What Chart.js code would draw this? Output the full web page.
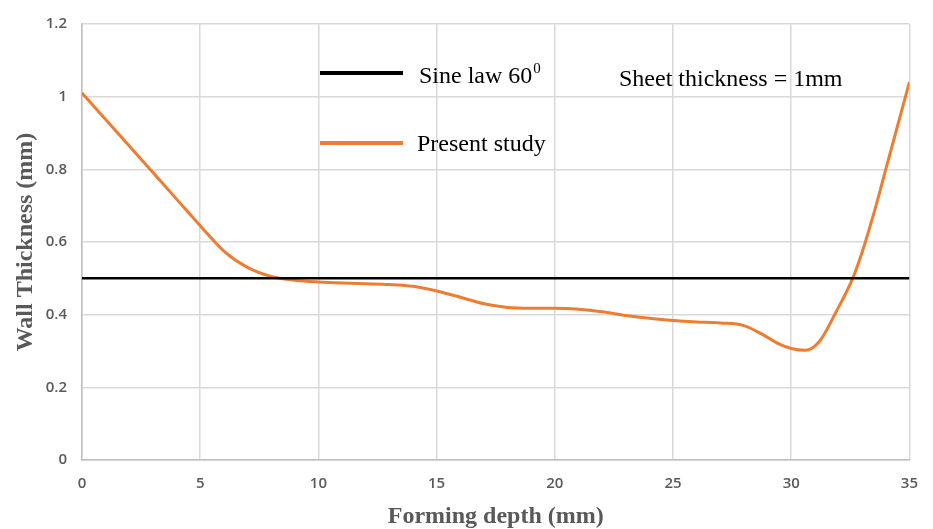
<!DOCTYPE html>
<html>
<head>
<meta charset="utf-8">
<script src="https://cdn.jsdelivr.net/npm/chart.js@4.4.1/dist/chart.umd.min.js"></script>
<style>
	html, body { margin:0; padding:0; background:#fff; }
	#wrap { width:933px; height:529px; position:relative; }
</style>
</head>
<body>
<div id="wrap"><canvas id="thicknessChart"></canvas></div>
<script>
	// 성형 깊이(mm) / 벽 두께(mm)
	const depthMm = [0, 1, 2, 3, 4, 5, 6, 7, 8, 9, 10, 11, 12, 13, 14, 15, 16, 17, 18, 19, 20, 21, 22, 23, 24, 25, 26, 27, 28, 28.8, 29.5, 30, 30.6, 31.2, 31.9, 32.6, 33, 33.5, 34, 34.5, 35];
	const thicknessMm = [1.01, 0.937, 0.864, 0.791, 0.718, 0.645, 0.575, 0.53, 0.505, 0.495, 0.49, 0.487, 0.485, 0.483, 0.478, 0.465, 0.448, 0.43, 0.42, 0.418, 0.418, 0.415, 0.408, 0.398, 0.39, 0.384, 0.38, 0.377, 0.37, 0.345, 0.319, 0.307, 0.302, 0.327, 0.408, 0.50, 0.572, 0.68, 0.80, 0.92, 1.04];
	const sineLawDepth = [0, 35];
	const sineLawValue = [0.5, 0.5];
	const xTicks = [0, 5, 10, 15, 20, 25, 30, 35];
	const yTicks = [0, 0.2, 0.4, 0.6, 0.8, 1, 1.2];

	const seriesNames = ["Sine law 60", "Present study"];
	const noteText = "Sheet thickness = 1mm";

	const ORANGE = "#ed7d31";
	const SERIF = "'Liberation Serif', 'Times New Roman', serif";
	const TICKFONT = { family: "'Open Sans', sans-serif", size: 15, weight: 600 };

	// 범례 + 주석 (차트 영역 안쪽)
	const legendInside = {
		id: 'legendInside',
		afterDraw(chart) {
			const ctx = chart.ctx;
			ctx.save();
			ctx.lineWidth = 4;
			ctx.lineCap = 'butt';
			ctx.strokeStyle = "#000";
			ctx.beginPath(); ctx.moveTo(320, 73); ctx.lineTo(403, 73); ctx.stroke();
			ctx.strokeStyle = ORANGE;
			ctx.beginPath(); ctx.moveTo(320, 143); ctx.lineTo(403, 143); ctx.stroke();

			ctx.fillStyle = "#000";
			ctx.textBaseline = 'middle';
			ctx.font = "24px " + SERIF;
			ctx.fillText(seriesNames[0], 419, 77);
			let w = ctx.measureText(seriesNames[0]).width;
			ctx.font = "15px " + SERIF;
			ctx.fillText("0", 419 + w + 1, 69);
			ctx.font = "24px " + SERIF;
			ctx.fillText(seriesNames[1], 417, 145);
			ctx.fillText(noteText, 619, 80);
			ctx.restore();
		}
	};

	const ctx = document.getElementById('thicknessChart');
	new Chart(ctx, {
		type: 'line',
		data: {
			datasets: [
				{
					label: seriesNames[0],
					data: sineLawDepth.map((x, i) => ({x: x, y: sineLawValue[i]})),
					borderColor: "#000",
					borderWidth: 2.5,
					pointRadius: 0,
					tension: 0
				},
				{
					label: seriesNames[1],
					data: depthMm.map((x, i) => ({x: x, y: thicknessMm[i]})),
					borderColor: ORANGE,
					borderWidth: 3,
					pointRadius: 0,
					cubicInterpolationMode: 'monotone'
				}
			]
		},
		options: {
			responsive: true,
			maintainAspectRatio: false,
			animation: false,
			layout: { padding: { top: 19, right: 23, left: 0, bottom: 0 } },
			plugins: {
				legend: { display: false },
				tooltip: { enabled: false }
			},
			scales: {
				x: {
					type: 'linear',
					min: 0, max: 35,
					afterBuildTicks: (s) => { s.ticks = xTicks.map(v => ({value: v})); },
					afterFit: (s) => { s.height = 69; },
					grid: { color: "#d9d9d9", lineWidth: 1.5, drawTicks: false },
					border: { color: "#bfbfbf", width: 1.5 },
					ticks: { color: "#595959", padding: 15, font: TICKFONT, callback: (v) => String(v) },
					title: { display: true, text: "Forming depth (mm)", color: "#595959", padding: { top: 0, bottom: -2 },
						font: { family: SERIF, size: 24, weight: 'bold' } }
				},
				y: {
					min: 0, max: 1.2,
					afterBuildTicks: (s) => { s.ticks = yTicks.map(v => ({value: v})); },
					afterFit: (s) => { s.width = 82; },
					grid: { color: "#d9d9d9", lineWidth: 1.5, drawTicks: false },
					border: { color: "#bfbfbf", width: 1.5 },
					ticks: { color: "#595959", padding: 15, font: TICKFONT, callback: (v) => String(v) },
					title: { display: true, text: "Wall Thickness (mm)", color: "#595959", padding: { top: 11, bottom: 0 },
						font: { family: SERIF, size: 24, weight: 'bold' } }
				}
			}
		},
		plugins: [legendInside]
	});
</script>
</body>
</html>
